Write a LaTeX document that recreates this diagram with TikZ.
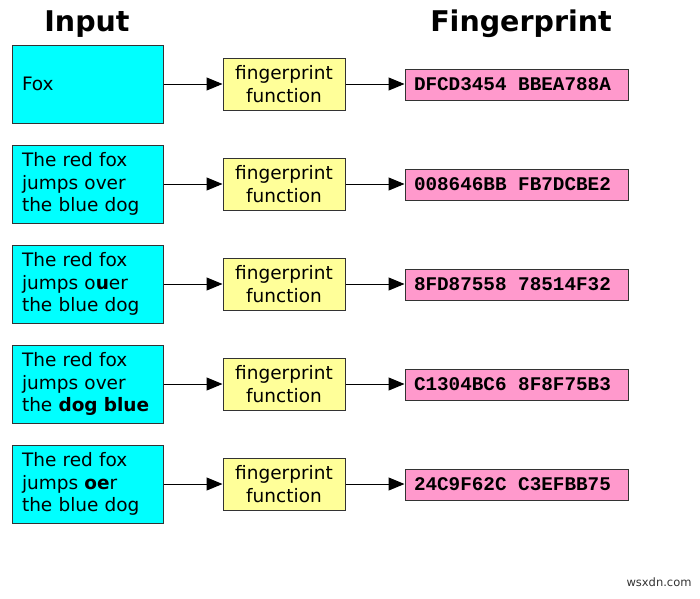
\documentclass[tikz,border=0pt]{standalone}
\usepackage{fontspec}
\setmainfont{DejaVu Sans}
\newfontfamily\hexfont{Liberation Mono}
\usetikzlibrary{arrows.meta}
\definecolor{incol}{HTML}{00FFFF}
\definecolor{fncol}{HTML}{FFFF99}
\definecolor{hxcol}{HTML}{FF99CC}
\definecolor{edge}{HTML}{333333}
\newcommand{\hxsp}{\hspace{0.6em}}
\begin{document}
\begin{tikzpicture}[x=1pt,y=-1pt,
  inbox/.style={draw=edge,line width=1pt,fill=incol,minimum height=78pt,text width=131pt,inner xsep=10pt,inner ysep=0pt,align=left,font=\fontsize{18.5}{22.5}\selectfont},
  fnbox/.style={draw=edge,line width=1pt,fill=fncol,minimum width=122pt,minimum height=52pt,inner sep=0pt,align=center,font=\fontsize{18.5}{22.5}\selectfont},
  hxbox/.style={draw=edge,line width=1pt,fill=hxcol,minimum height=31pt,text width=205pt,inner xsep=9pt,inner ysep=0pt,align=left,font=\hexfont\bfseries\fontsize{19.3}{20}\selectfont},
  title/.style={font=\bfseries\fontsize{28.5}{30}\selectfont},
  conn/.style={line width=1pt,-{Triangle[length=16pt,width=13pt]}}]
\useasboundingbox (0,0) rectangle (700,598);
\node[title] (tin) at (87,24) {Input};
\node[title] (tfp) at (521,24) {Fingerprint};
\foreach \i/\txt/\hx in {1/{Fox}/{DFCD3454\hxsp BBEA788A},
  2/{The red fox\\jumps over\\the blue dog}/{008646BB\hxsp FB7DCBE2},
  3/{The red fox\\jumps o\textbf{u}er\\the blue dog}/{8FD87558\hxsp 78514F32},
  4/{The red fox\\jumps over\\the \textbf{dog blue}}/{C1304BC6\hxsp 8F8F75B3},
  5/{The red fox\\jumps \textbf{oe}r\\the blue dog}/{24C9F62C\hxsp C3EFBB75}}{
  \pgfmathsetmacro{\yy}{84+100*(\i-1)}
  \node[inbox] (in\i) at (87.5,\yy) {\txt};
  \node[fnbox] (fn\i) at (284,\yy) {fingerprint\\function};
  \node[hxbox] (hx\i) at (516.5,\yy+0.5) {\hx};
  \draw[conn] (in\i.east) -- (fn\i.west);
  \draw[conn] (fn\i.east) -- (hx\i.west |- fn\i.east);
}
\node[font=\fontsize{11.5}{14}\selectfont,text=black!80] (wm) at (659,582) {wsxdn.com};
\end{tikzpicture}
\end{document}
